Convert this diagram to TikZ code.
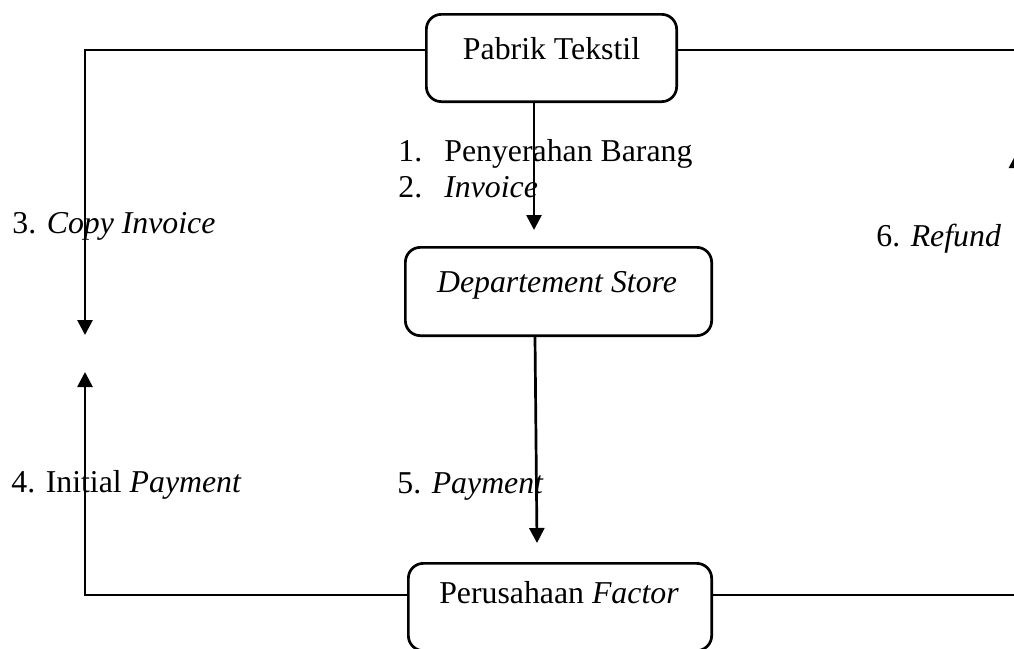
\documentclass[tikz,border=0pt]{standalone}
\usepackage{fontspec}
\setmainfont{Liberation Serif}
\usetikzlibrary{arrows.meta}
\begin{document}
\begin{tikzpicture}[x=1pt,y=-1pt,line width=2.7pt,
  box/.style={draw,rounded corners=15pt,inner sep=0pt},
  lbl/.style={font=\fontsize{31.8}{36}\selectfont,inner sep=0pt},
  arr/.style={-{Triangle[width=15pt,length=15pt]}}]
\useasboundingbox (0,0) rectangle (1014,648);
\clip (0,0) rectangle (1014,648);
% boxes
\node[box,minimum width=250.3pt,minimum height=87.3pt] (pt) at (551.5,58) {};
\node[box,minimum width=306.3pt,minimum height=88.3pt] (ds) at (558.5,291.5) {};
\node[box,minimum width=303.3pt,minimum height=87.3pt] (pf) at (560,607) {};
\node[lbl,anchor=base] (tpt) at (551.5,59) {Pabrik Tekstil};
\node[lbl,anchor=base] (tds) at (557,292) {\textit{Departement Store}};
\node[lbl,anchor=base] (tpf) at (559,603) {Perusahaan \textit{Factor}};
% free ends
\coordinate (c3) at (85,335);
\coordinate (c4) at (85,372);
\coordinate (rt) at (1030,50);
\coordinate (c6) at (1016.5,153);
\coordinate (a1) at (534,230);
\coordinate (a5) at (537,543);
% connectors
\draw[arr] ([yshift=8pt]pt.west) -| (c3);
\draw[arr] ([yshift=12pt]pf.west) -| (c4);
\draw ([yshift=8pt]pt.east) -- (rt);
\draw[arr] ([yshift=12pt]pf.east) -| (c6);
\draw[arr] ([xshift=-17.5pt]pt.south) -- (a1);
\draw[arr] ([xshift=-23.5pt]ds.south) -- (a5);
% labels
\node[lbl,anchor=base west] (l1) at (397,161) {\makebox[46pt][l]{1.}Penyerahan Barang};
\node[lbl,anchor=base west] (l2) at (397,197) {\makebox[46pt][l]{2.}\textit{Invoice}};
\node[lbl,anchor=base west] (l3) at (11,233) {3. \textit{Copy Invoice}};
\node[lbl,anchor=base west] (l4) at (10,492) {4. Initial \textit{Payment}};
\node[lbl,anchor=base west] (l5) at (396,493) {5. \textit{Payment}};
\node[lbl,anchor=base west] (l6) at (875,246) {6. \textit{Refund}};
\end{tikzpicture}
\end{document}
